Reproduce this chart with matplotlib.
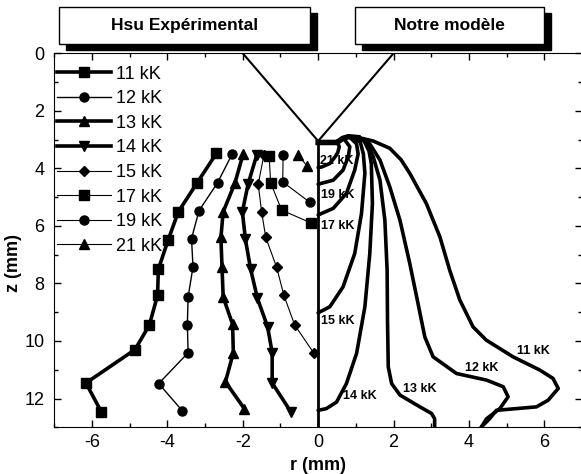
import numpy as np
import matplotlib
matplotlib.use('Agg')
import matplotlib.pyplot as plt
from matplotlib.patches import Rectangle
from matplotlib.ticker import MultipleLocator

plt.rcParams['font.family'] = ['Liberation Sans', 'DejaVu Sans']
plt.rcParams['axes.unicode_minus'] = False

# --- Hsu experimental (r < 0) ---
exp_labels = ['11 kK', '12 kK', '13 kK', '14 kK', '15 kK', '17 kK', '19 kK', '21 kK']
exp_markers = ['s', 'o', '^', 'v', 'D', 's', 'o', '^']
exp_lw = [2.6, 1.0, 2.6, 2.6, 0.8, 0.8, 0.8, 0.8]

r11 = [-2.70, -3.21, -3.71, -3.98, -4.24, -4.26, -4.48, -4.86, -6.16, -5.75]
z11 = [3.48, 4.50, 5.51, 6.49, 7.51, 8.41, 9.45, 10.30, 11.46, 12.47]
r12 = [-2.28, -2.67, -3.16, -3.36, -3.32, -3.45, -3.47, -3.45, -4.23, -3.60]
z12 = [3.50, 4.50, 5.47, 6.44, 7.42, 8.47, 9.43, 10.41, 11.48, 12.43]
r13 = [-1.99, -2.21, -2.52, -2.58, -2.55, -2.52, -2.27, -2.25, -2.46, -1.96]
z13 = [3.50, 4.52, 5.51, 6.40, 7.44, 8.47, 9.42, 10.41, 11.42, 12.35]
r14 = [-1.63, -1.86, -2.01, -1.93, -1.79, -1.61, -1.34, -1.22, -1.22, -0.72]
z14 = [3.54, 4.55, 5.51, 6.47, 7.51, 8.52, 9.51, 10.41, 11.46, 12.47]
r15 = [-1.44, -1.59, -1.50, -1.39, -1.10, -0.91, -0.62, -0.11]
z15 = [3.54, 4.55, 5.51, 6.40, 7.44, 8.41, 9.45, 10.43]
r17 = [-1.30, -1.26, -0.97, -0.20]
z17 = [3.57, 4.50, 5.45, 5.89]
r19 = [-0.93, -0.94, -0.22]
z19 = [3.54, 4.47, 5.18]
r21 = [-0.53, -0.29]
z21 = [3.54, 3.92]
exp_r = [r11, r12, r13, r14, r15, r17, r19, r21]
exp_z = [z11, z12, z13, z14, z15, z17, z19, z21]

# --- our model, isotherms (r > 0) ---
m21_r = [0.50, 0.56, 0.52, 0.45, 0.31, 0.10, 0.0]
m21_z = [3.05, 3.25, 3.45, 3.60, 3.83, 3.95, 3.97]
m19_r = [0.70, 0.84, 0.80, 0.66, 0.40, 0.0]
m19_z = [3.00, 3.25, 3.59, 4.06, 4.41, 4.55]
m17_r = [0.85, 1.02, 1.06, 0.97, 0.75, 0.40, 0.0]
m17_z = [2.93, 3.15, 3.50, 4.06, 4.87, 5.39, 5.62]
m15_r = [0.95, 1.12, 1.20, 1.24, 1.15, 0.97, 0.66, 0.31, 0.0]
m15_z = [2.93, 3.10, 3.50, 4.17, 5.57, 6.96, 8.12, 8.81, 9.02]
m14_r = [1.00, 1.22, 1.35, 1.41, 1.44, 1.37, 1.24, 1.02, 0.75, 0.49, 0.22, 0.0]
m14_z = [2.92, 3.05, 3.40, 3.83, 5.22, 6.96, 8.81, 10.43, 11.48, 12.12, 12.35, 12.41]
m13_r = [1.02, 1.24, 1.46, 1.64, 1.77, 1.83, 1.84, 1.86, 1.95, 2.17, 2.70, 3.01, 3.09, 3.09]
m13_z = [2.90, 3.01, 3.59, 4.41, 5.80, 7.54, 9.28, 10.90, 11.48, 11.88, 12.29, 12.52, 12.70, 12.99]
m12_r = [1.05, 1.37, 1.64, 1.90, 2.17, 2.43, 2.65, 2.83, 3.05, 3.67, 4.47, 4.91, 5.04, 4.82, 4.47, 4.33]
m12_z = [2.92, 3.15, 3.71, 4.64, 5.80, 7.30, 8.70, 9.86, 10.55, 11.13, 11.36, 11.59, 11.94, 12.35, 12.70, 12.99]
m11_r = [1.05, 1.46, 1.90, 2.20, 2.43, 2.87, 3.23, 3.49, 3.76, 4.11, 4.46, 5.17, 5.88, 6.23, 6.37, 6.10, 5.79, 4.73, 4.55, 4.33]
m11_z = [2.92, 3.05, 3.30, 3.70, 4.17, 5.22, 6.38, 7.54, 8.58, 9.51, 9.97, 10.55, 11.01, 11.30, 11.65, 12.06, 12.29, 12.41, 12.70, 12.99]
model_r = [m21_r, m19_r, m17_r, m15_r, m14_r, m13_r, m12_r, m11_r]
model_z = [m21_z, m19_z, m17_z, m15_z, m14_z, m13_z, m12_z, m11_z]

# cathode tip outline
tip_r = [0.0, 0.50, 0.65, 0.80, 1.05]
tip_z = [3.10, 3.10, 2.96, 2.90, 2.93]

# label positions for the isotherms
lab_text = ['21 kK', '19 kK', '17 kK', '15 kK', '14 kK', '13 kK', '12 kK', '11 kK']
lab_r = [0.05, 0.08, 0.08, 0.08, 0.66, 2.25, 3.90, 5.27]
lab_z = [3.75, 4.93, 6.02, 9.30, 11.90, 11.66, 10.93, 10.35]

W, H = 581, 474
fig = plt.figure(figsize=(W / 100, H / 100), dpi=100)
ax = fig.add_axes([54.3 / W, 1 - 427.3 / H, (582 - 54.3) / W, (427.3 - 53.3) / H])

for r, z, m, lw, lab in zip(exp_r, exp_z, exp_markers, exp_lw, exp_labels):
    ms = 5.5 if m == 'D' else 6.5
    ax.plot(r, z, '-', color='black', lw=lw, marker=m, ms=ms, label=lab)

for r, z in zip(model_r, model_z):
    ax.plot(r, z, '-', color='black', lw=2.6, solid_capstyle='round', solid_joinstyle='round')
ax.plot(tip_r, tip_z, '-', color='black', lw=4)

for t, r, z in zip(lab_text, lab_r, lab_z):
    ax.text(r, z, t, fontsize=9, fontweight='bold', ha='left', va='center')

# electrode V and symmetry axis
ax.plot([-2, 0, 2], [0, 3.05, 0], color='black', lw=1.5)
ax.plot([0, 0], [3.05, 13], color='black', lw=2)

ax.set_xlim(-7, 7)
ax.set_ylim(13, 0)
ax.xaxis.set_major_locator(MultipleLocator(2))
ax.xaxis.set_minor_locator(MultipleLocator(1))
ax.yaxis.set_major_locator(MultipleLocator(2))
ax.yaxis.set_minor_locator(MultipleLocator(1))
ax.tick_params(which='both', direction='in', top=True, right=True, labelsize=13)
ax.tick_params(which='major', length=5, width=1)
ax.tick_params(which='minor', length=3, width=1)
ax.tick_params(axis='x', pad=5)
ax.tick_params(axis='y', pad=7)
ax.set_xlabel('r (mm)', fontsize=13, fontweight='bold', labelpad=4)
ax.set_ylabel('z (mm)', fontsize=13, fontweight='bold')
ax.yaxis.set_label_coords(-0.062, 0.44)

ax.legend(loc='upper left', bbox_to_anchor=(0.005, 0.967), frameon=False,
          fontsize=13, handlelength=3.0, handletextpad=0.25, labelspacing=0.42,
          borderpad=0, borderaxespad=0, numpoints=1)

# title boxes with drop shadow
for x0, x1, txt in [(59, 310, 'Hsu Expérimental'), (355, 544, 'Notre modèle')]:
    y0, y1 = 6.7, 44
    fig.patches.append(Rectangle(((x0 + 7) / W, 1 - (y1 + 6) / H), (x1 - x0) / W, (y1 - y0) / H,
                                 transform=fig.transFigure, facecolor='black', edgecolor='black'))
    fig.patches.append(Rectangle((x0 / W, 1 - y1 / H), (x1 - x0) / W, (y1 - y0) / H,
                                 transform=fig.transFigure, facecolor='white', edgecolor='black', lw=1))
    fig.text((x0 + x1) / 2 / W, 1 - (y0 + y1) / 2 / H, txt, ha='center', va='center',
             fontsize=12.5, fontweight='bold')

fig.savefig('out.png', dpi=100)
